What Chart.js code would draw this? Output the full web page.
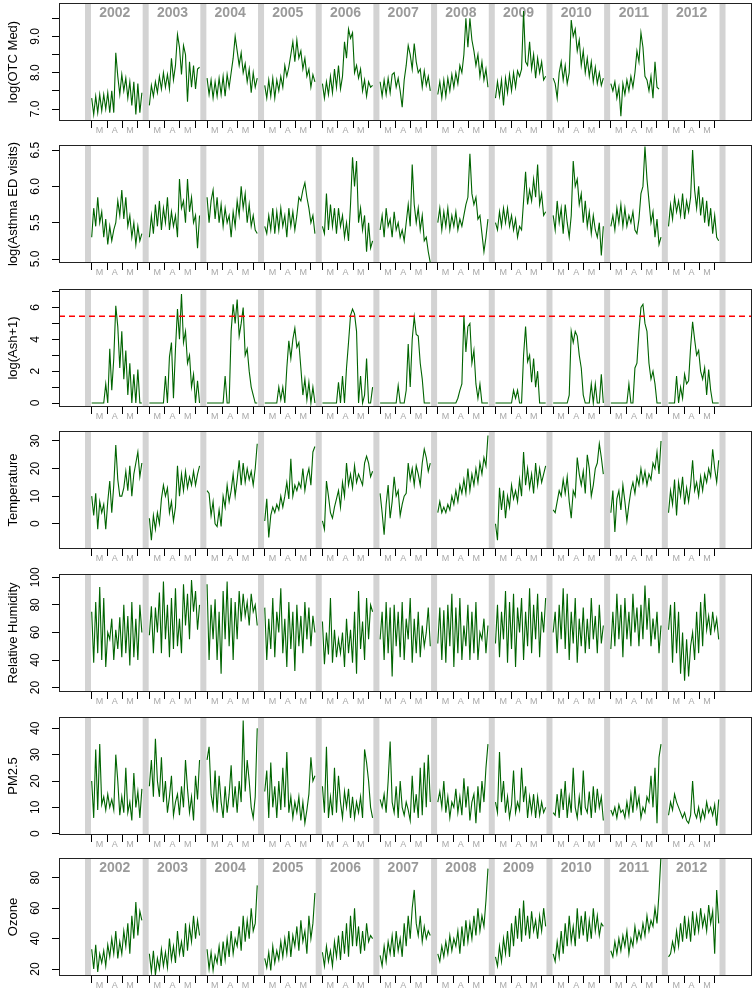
<!DOCTYPE html>
<html>
<head>
<meta charset="utf-8">
<script src="https://cdn.jsdelivr.net/npm/chart.js@4.4.0/dist/chart.umd.min.js"></script>
<style>
  body { margin: 0; background: #fff; }
  #wrap { position: relative; width: 755px; height: 992px; overflow: hidden; }
  #wrap canvas { position: absolute; left: 0; }
</style>
</head>
<body>
<div id="wrap"></div>
<script>
// ─── DATA ────────────────────────────────────────────────────────────────
// one sub-array per season (Mar 1 .. early Jun), one value every 4 days
const years = [2002, 2003, 2004, 2005, 2006, 2007, 2008, 2009, 2010, 2011, 2012];
const monthStarts = [0, 31, 61, 92];      // Mar 1, Apr 1, May 1, Jun 1 (days after Mar 1)
const monthMids = [15.5, 46, 76.5];
const monthLabels = ['M', 'A', 'M'];
const dayStep = 4;
const yearSpan = 115;                     // days on the axis per season incl. the grey gap
const ashLimit = 5.45;

const otcMed = [
  [7.3,6.85,7.35,6.9,7.4,6.95,7.4,7.0,7.45,6.9,7.5,6.9,8.55,7.9,7.4,7.95,7.5,7.85,7.3,7.75,7.1,7.75,6.85,7.7,6.9,7.45],
  [7.1,7.65,7.35,7.75,7.45,7.9,7.55,8.0,7.6,7.95,7.55,8.4,7.8,8.2,9.05,8.7,7.95,8.75,8.5,7.2,8.3,7.6,8.2,7.55,8.1,8.15],
  [7.85,7.4,7.8,7.3,7.75,7.35,7.85,7.4,7.9,7.35,7.95,7.6,8.0,8.4,9.0,8.6,8.2,8.55,8.0,8.25,7.75,8.1,7.45,8.0,7.6,7.85],
  [7.65,7.3,7.8,7.35,7.85,7.3,7.8,7.5,7.9,7.6,8.2,7.9,8.15,8.5,8.85,8.3,8.9,8.4,8.6,8.1,8.4,7.9,8.1,7.6,7.95,7.75],
  [7.7,7.3,7.75,7.4,7.9,7.45,8.1,7.6,8.2,7.55,7.9,8.85,8.4,9.2,8.95,9.1,8.0,8.2,7.85,8.1,7.5,7.8,7.35,7.75,7.6,7.65],
  [7.75,7.35,7.8,7.4,7.85,7.45,7.95,8.0,7.6,7.85,7.5,7.05,7.8,8.2,8.75,8.5,8.1,8.8,8.3,8.0,8.1,7.6,8.05,7.65,7.9,7.5],
  [7.4,7.75,7.3,7.8,7.35,7.85,7.5,7.95,7.6,8.0,7.7,8.2,8.0,8.5,9.5,8.7,9.5,8.9,8.6,8.2,8.5,7.9,8.3,7.8,8.1,7.6],
  [7.3,7.75,7.35,7.8,7.1,7.85,7.45,7.95,7.5,8.0,7.6,8.05,7.9,8.1,9.7,8.3,8.2,8.85,8.1,8.5,7.85,8.4,8.0,8.3,7.8,7.9],
  [7.85,7.7,7.3,8.0,8.3,7.8,8.2,7.7,8.0,9.45,9.0,9.2,8.6,8.9,8.2,8.6,8.0,8.4,7.9,8.3,7.75,8.15,7.7,8.0,7.65,7.85],
  [7.7,7.5,7.75,7.3,7.6,6.8,7.7,7.4,7.8,7.5,7.9,7.6,8.0,8.6,8.3,9.1,8.7,7.9,7.8,7.5,7.9,7.3,8.3,7.6,7.55],
  []
];

const asthmaEd = [
  [5.3,5.7,5.45,5.85,5.5,5.65,5.3,5.55,5.2,5.45,5.25,5.4,5.5,5.8,5.6,5.95,5.55,5.85,5.45,5.6,5.3,5.5,5.2,5.45,5.25,5.35],
  [5.3,5.6,5.35,5.75,5.45,5.8,5.4,5.7,5.5,5.85,5.4,5.65,5.45,5.6,5.3,6.1,5.7,5.8,5.5,6.1,5.65,5.85,5.5,5.6,5.15,5.6],
  [5.85,5.5,5.8,5.95,5.55,5.85,5.5,5.75,5.45,5.7,5.5,5.6,5.3,5.65,5.45,5.8,5.6,6.0,5.7,5.9,5.5,5.75,5.45,5.6,5.4,5.35],
  [5.45,5.35,5.6,5.4,5.7,5.35,5.65,5.4,5.7,5.45,5.6,5.3,5.7,5.45,5.65,5.4,5.6,5.85,5.8,5.95,6.05,5.85,5.7,5.5,5.6,5.35],
  [5.45,5.35,5.9,5.4,5.75,5.45,5.7,5.35,5.7,5.45,5.6,5.3,5.5,5.25,5.75,6.4,6.0,6.35,5.5,5.7,5.4,5.6,5.1,5.5,5.15,5.25],
  [5.4,5.6,5.3,5.7,5.45,5.55,5.3,5.65,5.4,5.5,5.3,5.4,5.25,5.5,5.75,5.45,6.3,5.75,5.5,5.7,5.4,5.6,5.25,5.3,5.1,4.95],
  [5.5,5.7,5.4,5.65,5.45,5.7,5.4,5.6,5.45,5.65,5.4,5.55,5.45,5.6,5.75,5.85,6.45,5.9,5.75,5.85,5.55,5.6,5.35,5.1,5.3,5.55],
  [5.5,5.4,5.65,5.45,5.7,5.5,5.7,5.45,5.6,5.4,5.55,5.3,5.45,5.4,5.8,6.2,5.75,5.95,5.8,6.1,5.85,6.3,5.75,5.9,5.6,5.65],
  [5.6,5.4,5.8,5.5,5.7,5.35,5.75,5.5,5.3,5.6,6.35,6.0,6.1,5.75,5.9,5.5,5.8,5.45,5.65,5.35,5.6,5.4,5.3,5.5,5.05,5.45],
  [5.45,5.6,5.4,5.7,5.5,5.75,5.45,5.7,5.45,5.6,5.5,5.65,5.4,5.35,5.55,5.9,6.0,6.55,6.1,5.8,5.5,5.65,5.3,5.55,5.2,5.3],
  [5.45,5.75,5.55,5.85,5.65,5.8,5.6,5.9,5.55,5.8,5.65,5.85,6.5,5.95,5.7,6.0,5.6,5.85,5.5,5.8,5.45,5.7,5.35,5.6,5.3,5.25]
];

const ash = [
  [0,0,0,0,0,0,0,1.2,0,3.4,0.8,2.8,6.1,4.8,2.2,4.5,1.5,3.3,0.5,2.5,0,1.8,0,2.1,0,0],
  [0,0,0,0,0,0,0,0,1.7,0,2.9,3.8,0.3,3.4,5.9,4.0,6.85,3.8,4.5,2.5,3.0,1.0,1.8,0,1.4,0],
  [0,0,0,0,0,0,0,0,0,1.7,0,0,4.5,6.2,5.0,6.5,4.2,5.0,6.0,3.0,3.4,2.0,1.0,0.5,0,0],
  [0,0,0,0,0,0,0,1.0,0.2,1.0,0,2.2,3.9,2.8,4.0,4.7,3.5,3.8,2.2,0.5,1.5,0.2,1.3,0,1.0,0],
  [0,0,0,0,0,0,0,0,1.3,0,1.7,0,2.2,3.8,5.5,5.9,5.6,4.5,0,1.7,0,0.5,2.8,0,0,1.0],
  [0,0,0,0,0,0,0,0,0,1.1,0,0,0,0.8,3.7,1.0,4.0,5.4,4.3,4.2,2.5,1.5,0,0,0,0],
  [0,0,0,0,0,0,0,0,0,0,0.3,0.8,1.2,5.5,3.2,4.8,5.0,2.5,3.3,1.2,0.3,1.2,0,0,0,0],
  [0,0,0,0,0,0,0,0,0,0.8,0.3,0.8,0,0,3.0,4.8,2.6,3.0,1.3,2.8,1.0,2.0,0,0,0,0],
  [0,0,0,0,0,0,0,0,0.5,4.5,3.8,4.5,4.2,3.0,2.2,0.5,0,0,0,1.2,0,1.2,0,0,1.8,0],
  [0,0,0,0,0,0,0,0,0,1.2,0,0,2.2,2.5,4.5,6.0,6.2,5.0,4.5,2.5,1.5,2.0,1.2,0,0,0],
  [0,0,0,0,1.7,0,1.0,0.3,1.8,1.2,1.4,3.5,5.1,4.0,3.0,3.3,2.0,1.5,2.2,0.5,2.1,0.8,0,0,0,0]
];

const temperature = [
  [10,3,11,-2,8,4,7,-2,8,15.5,4,14,28.5,16,10,10,13,19,12,21,10,18,22,26,17,22],
  [2,-6,3,-2,4,0,9,14,10,13,4,8,1,6,21,10,18,12,19,13,17,14,19,14,18,21],
  [12,11,3,8,0,-1,5,-1,10,6,14,8,12,18,10,16,23,14,22,15,20,16,19,14,20,29],
  [1,9,-5,3,6,4,7,5,10,6,10,15,9,23.5,10,14,12,15,13,20,12,17,20,14,26,28],
  [1,-2,15.5,10,4,2,6,9,12,6,15,10,22,14,18,13,21,15,18,16,14,22,24.5,22,17,19],
  [11,4,-4,7,14,2,8,17,10,12,3,7,10,11,22,16,20,14,21,18,14,22,27,24,19,22],
  [4,8,4,6,4,7,5,10,7,12,8,14,11,16,11,20,12,18,14,20,15,22,18,24,21,32],
  [0,-6,13,5,12,2,10,6,14,9,12,8,16,10,26,14,20,13,18,11,22,14,20,15,18,21],
  [5,4,8,12,10,16,11,17,8,2,12,10,24,18,14,19,11,25,20,10,14,20,22,29,24,18],
  [4,12,-3,9,12,5,14,8,1,7,12,15,11,17,14,20,15,19,14,18,16,22,20,26,18,30],
  [4,12,7,16,3,15,10,17,7,13,8,14,23,12,15,10,17,12,18,15,20,17,27,20,15,23]
];

const humidity = [
  [75,38,82,45,93,40,85,35,60,55,70,40,62,48,71,42,80,45,72,36,82,42,70,40,80,60],
  [58,79,45,78,60,89,45,97,55,80,42,85,48,92,50,70,45,95,65,88,55,98,75,90,62,80],
  [95,40,80,55,84,40,75,30,90,55,97,50,85,40,82,55,90,68,88,72,82,65,88,75,80,65],
  [78,40,70,48,85,42,75,60,92,45,70,35,82,48,75,32,80,50,72,45,82,55,78,50,72,60],
  [68,37,60,44,85,38,62,42,55,45,60,35,70,45,62,38,75,30,90,48,68,40,85,55,80,75],
  [55,75,40,82,45,78,28,80,50,75,42,82,40,70,55,85,38,70,45,75,42,65,50,60,78,50],
  [52,78,40,76,38,80,50,88,35,78,45,85,40,65,50,80,40,75,45,82,40,60,55,70,45,65],
  [52,80,42,75,55,90,38,82,48,88,35,78,60,85,40,75,50,92,45,80,55,88,42,75,60,85],
  [60,75,45,80,55,92,48,88,40,75,52,85,38,70,50,78,45,70,48,85,55,72,45,80,52,65],
  [48,75,50,88,55,80,42,85,55,75,50,88,60,78,50,80,55,94,62,85,50,70,55,75,45,65],
  [62,80,38,82,45,75,30,60,25,55,28,50,60,40,75,45,82,50,88,62,72,58,75,62,70,55]
];

const pm25 = [
  [20,6,32,9,34,11,14,9,15,10,13,9,30,20,7,14,8,25,8,12,5,23,10,16,6,17],
  [18,28,14,36,20,14,29,12,20,8,14,22,7,12,15,7,18,10,28,17,8,14,5,22,13,28],
  [28,33,15,10,24,8,22,12,6,18,8,15,26,10,18,8,20,12,43,16,28,20,10,6,14,40],
  [16,24,6,27,10,18,6,20,9,25,10,31,8,14,6,12,8,14,5,12,4,9,15,29,20,22],
  [18,8,33,6,14,7,25,8,22,12,6,16,10,17,6,14,6,12,8,14,6,32,27,20,10,6],
  [13,10,15,8,20,35,12,8,18,6,20,10,7,12,9,5,22,8,15,6,25,7,27,10,30,12],
  [12,16,10,20,8,14,6,12,10,17,8,14,7,21,10,18,5,12,15,4,18,8,20,12,25,34],
  [12,8,31,12,20,8,14,6,11,24,8,12,9,25,12,18,6,14,8,15,6,14,7,12,8,10],
  [8,7,15,6,17,9,20,6,14,8,25,10,6,14,7,24,10,8,16,6,18,8,17,10,14,5],
  [9,7,10,6,11,8,9,6,12,7,15,8,18,10,14,6,10,8,14,12,22,10,25,4,29,34],
  [7,12,9,15,12,10,8,6,8,5,4,7,20,8,6,10,5,9,6,12,8,10,7,11,3,13]
];

const ozone = [
  [33,20,36,18,30,24,32,22,36,28,40,30,45,27,38,30,45,35,50,30,55,40,64,42,58,52],
  [30,18,32,16,27,20,33,22,31,21,40,26,35,24,45,30,38,28,50,32,48,38,55,40,52,42],
  [33,20,31,19,29,24,35,22,38,26,40,28,45,30,40,35,48,32,55,38,52,40,60,45,50,75],
  [27,21,31,19,35,24,32,26,38,28,40,30,45,28,42,35,48,32,52,38,45,30,55,40,50,70],
  [31,22,35,25,32,22,38,28,42,26,45,30,50,28,55,35,60,35,48,30,45,32,50,38,42,40],
  [29,22,35,25,38,30,42,28,45,32,40,28,50,35,55,40,60,72,50,42,55,38,48,40,45,42],
  [30,25,35,28,38,30,42,32,40,35,45,30,48,35,52,38,50,40,55,42,60,45,55,48,65,86],
  [28,22,35,25,40,30,45,28,50,35,55,40,60,38,65,42,55,40,58,45,52,40,55,45,60,48],
  [30,25,38,28,45,30,50,35,55,38,48,35,60,40,55,42,58,38,52,40,60,45,55,42,50,48],
  [32,28,38,30,40,32,42,35,45,30,40,35,48,38,45,40,50,42,55,45,52,48,60,50,70,95],
  [28,30,38,32,45,35,50,38,55,40,52,38,58,42,55,45,60,48,55,45,62,50,58,30,72,50]
];

// ─── LAYOUT / STYLE ──────────────────────────────────────────────────────
const FONT = '"Liberation Sans", Arial, sans-serif';
const LINE_GREEN = '#006400';
const BOX_LEFT = 59, PLOT_H = 118, X_AXIS_H = 22, PAD_TOP = 12;
const X_MIN = -65.2, X_MAX = 1316.4;

const panels = [
  { title: 'log(OTC Med)', values: otcMed, top: 3, min: 6.67, max: 9.92, ticks: [7, 7.5, 8, 8.5, 9, 9.5], shown: [7, 8, 9], digits: 1, years: true },
  { title: 'log(Asthma ED visits)', values: asthmaEd, top: 145, min: 4.945, max: 6.57, ticks: [5, 5.5, 6, 6.5], shown: [5, 5.5, 6, 6.5], digits: 1 },
  { title: 'log(Ash+1)', values: ash, top: 289, min: -0.25, max: 7.16, ticks: [0, 1, 2, 3, 4, 5, 6, 7], shown: [0, 2, 4, 6], digits: 0, limit: ashLimit },
  { title: 'Temperature', values: temperature, top: 431, min: -9.15, max: 33.6, ticks: [0, 10, 20, 30], shown: [0, 10, 20, 30], digits: 0 },
  { title: 'Relative Humidity', values: humidity, top: 574, min: 16.8, max: 102.4, ticks: [20, 40, 60, 80, 100], shown: [20, 40, 60, 80, 100], digits: 0 },
  { title: 'PM2.5', values: pm25, top: 717, min: -0.5, max: 44.3, ticks: [0, 10, 20, 30, 40], shown: [0, 10, 20, 30, 40], digits: 0 },
  { title: 'Ozone', values: ozone, top: 858, min: 15.4, max: 93, ticks: [20, 40, 60, 80], shown: [20, 40, 60, 80], digits: 0, years: true }
];

const measureCtx = document.createElement('canvas').getContext('2d');
function textWidth(txt, size) {
  measureCtx.font = size + 'px ' + FONT;
  return measureCtx.measureText(txt).width;
}

function toPoints(values) {
  const pts = [];
  values.forEach((season, k) => {
    season.forEach((v, i) => pts.push({ x: k * yearSpan + i * dayStep, y: v }));
    pts.push({ x: k * yearSpan + season.length * dayStep + 1, y: null }); // break between seasons
  });
  return pts;
}

const boundaryTicks = [], labelTicks = [];
years.forEach((yr, k) => {
  monthStarts.forEach(d => boundaryTicks.push(k * yearSpan + d));
  monthMids.forEach((d, j) => labelTicks.push({ value: k * yearSpan + d, label: monthLabels[j] }));
});
const xTickValues = boundaryTicks.concat(labelTicks.map(t => t.value)).sort((a, b) => a - b);

// grey separators (and year captions), drawn behind the lines
const gapBars = {
  id: 'gapBars',
  beforeDatasetsDraw(chart) {
    const { ctx, chartArea, scales } = chart;
    ctx.save();
    ctx.fillStyle = '#d3d3d3';
    for (let k = 0; k <= years.length; k++) {
      const x0 = scales.x.getPixelForValue(k * yearSpan - 13.4);
      const x1 = scales.x.getPixelForValue(k * yearSpan - 1.4);
      ctx.fillRect(x0, chartArea.top, x1 - x0, chartArea.bottom - chartArea.top);
    }
    const p = chart.options.plugins.yearText;
    if (p && p.show) {
      ctx.fillStyle = '#9a9a9a';
      ctx.font = 'bold 14px ' + FONT;
      ctx.textAlign = 'center';
      ctx.textBaseline = 'middle';
      years.forEach((yr, k) => {
        ctx.fillText(String(yr), scales.x.getPixelForValue(k * yearSpan + 46), chartArea.top + 10);
      });
    }
    ctx.restore();
  }
};

const frame = {
  id: 'frame',
  afterDraw(chart) {
    const { ctx, chartArea: a } = chart;
    ctx.save();
    ctx.strokeStyle = '#222';
    ctx.lineWidth = 1;
    ctx.strokeRect(Math.round(a.left) + 0.5, Math.round(a.top) + 0.5, Math.round(a.right - a.left) - 1, Math.round(a.bottom - a.top) - 1);
    ctx.restore();
  }
};

function makePanel(p) {
  const canvas = document.createElement('canvas');
  canvas.width = 755;
  canvas.height = PAD_TOP + PLOT_H + X_AXIS_H;
  canvas.style.top = (p.top - PAD_TOP) + 'px';
  document.getElementById('wrap').appendChild(canvas);

  const fmt = v => v.toFixed(p.digits);
  const widest = Math.max(...p.shown.map(v => textWidth(fmt(v), 12)));
  const datasets = [];
  if (p.limit !== undefined) {
    datasets.push({ data: [{ x: X_MIN, y: p.limit }, { x: X_MAX, y: p.limit }], borderColor: '#ff0000',
      borderWidth: 1.5, borderDash: [6, 4], pointRadius: 0 });
  }
  datasets.push({ data: toPoints(p.values), borderColor: LINE_GREEN, borderWidth: 1.1, pointRadius: 0, spanGaps: false });

  new Chart(canvas, {
    type: 'line',
    data: { datasets },
    plugins: [gapBars, frame],
    options: {
      responsive: false, animation: false, events: [],
      layout: { padding: { left: 0, top: PAD_TOP, right: 3, bottom: 0 } },
      plugins: { legend: { display: false }, tooltip: { enabled: false }, yearText: { show: !!p.years } },
      elements: { line: { tension: 0 } },
      scales: {
        x: {
          type: 'linear', min: X_MIN, max: X_MAX,
          afterBuildTicks: s => { s.ticks = xTickValues.map(v => ({ value: v })); },
          afterFit: s => { s.height = X_AXIS_H; s.paddingLeft = 0; s.paddingRight = 0; },
          border: { display: false },
          grid: { drawOnChartArea: false, drawTicks: true, tickLength: 7,
            tickColor: c => boundaryTicks.includes(c.tick.value) ? '#000' : 'rgba(0,0,0,0)' },
          ticks: {
            autoSkip: false, maxRotation: 0, minRotation: 0, padding: -3, color: '#a8a8a8',
            font: { family: FONT, size: 9 },
            callback: v => { const t = labelTicks.find(l => Math.abs(l.value - v) < 0.01); return t ? t.label : ''; }
          }
        },
        y: {
          min: p.min, max: p.max,
          afterBuildTicks: s => { s.ticks = p.ticks.map(v => ({ value: v })); },
          afterFit: s => { s.width = BOX_LEFT; s.paddingTop = 0; s.paddingBottom = 0; },
          border: { display: false },
          grid: { drawOnChartArea: false, drawTicks: true, tickLength: 7, tickColor: '#000' },
          ticks: {
            autoSkip: false, minRotation: 90, maxRotation: 90, crossAlign: 'center',
            padding: BOX_LEFT - 7 - 36 - widest / 2, color: '#000',
            font: { family: FONT, size: 12 },
            callback: v => p.shown.some(s => Math.abs(s - v) < 1e-6) ? fmt(v) : ''
          },
          title: { display: true, text: p.title, color: '#000', font: { family: FONT, size: 13 }, padding: { top: 6, bottom: 0 } }
        }
      }
    }
  });
}

panels.forEach(makePanel);
</script>
</body>
</html>
